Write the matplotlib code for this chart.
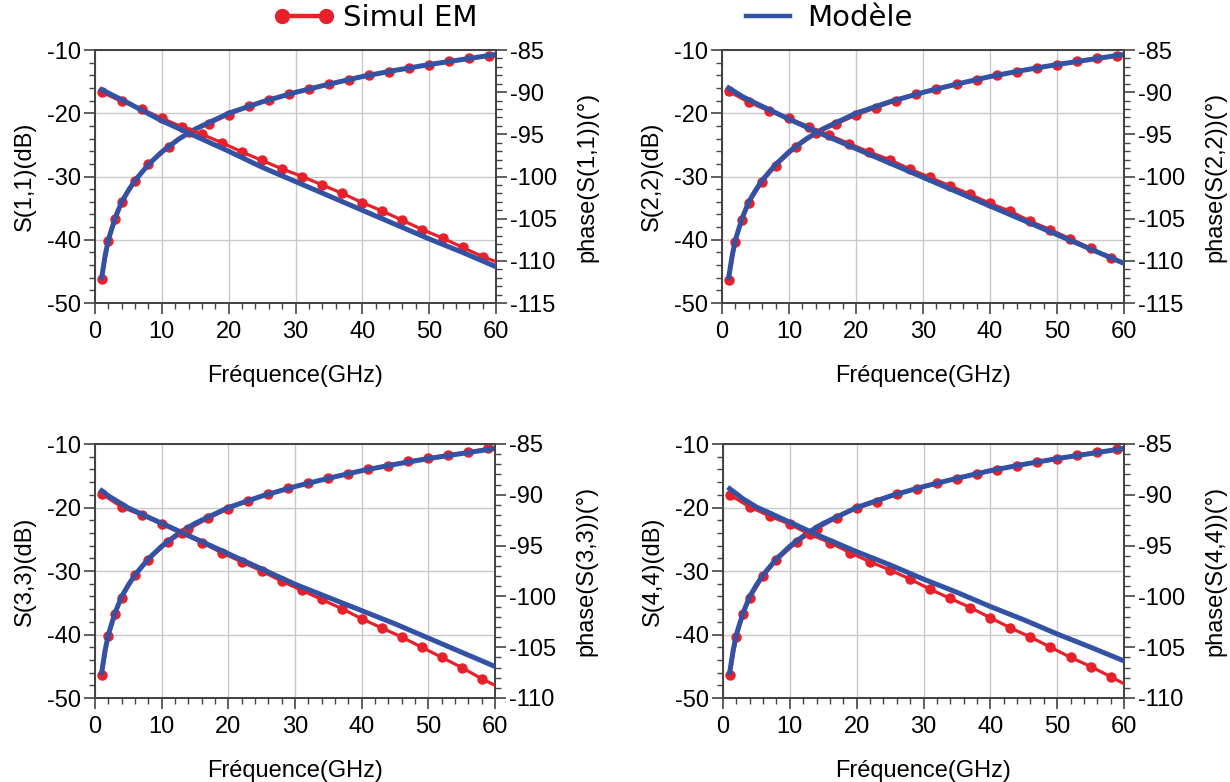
import matplotlib
matplotlib.use("Agg")
import matplotlib.pyplot as plt
from matplotlib.ticker import MultipleLocator
from matplotlib.lines import Line2D

plt.rcParams['font.family'] = ['Liberation Sans', 'DejaVu Sans']
plt.rcParams['axes.unicode_minus'] = False

# frequences (GHz)
f_mag = [1, 2, 3, 4, 6, 8, 11, 14, 17, 20, 23, 26, 29, 32, 35, 38, 41, 44, 47, 50, 53, 56, 59]
f_ph = [1, 4, 7, 10, 13, 16, 19, 22, 25, 28, 31, 34, 37, 40, 43, 46, 49, 52, 55, 58, 60]
f_mod_mag = [1, 1.5, 2, 3, 4, 5, 6, 8, 10, 12.5, 15, 20, 25, 30, 35, 40, 45, 50, 55, 60]
f_mod_ph = [1, 2, 3, 5, 10, 15, 20, 25, 30, 35, 40, 45, 50, 55, 60]

ports = ['1,1', '2,2', '3,3', '4,4']

# Simul EM : module (dB)
em_mag = {
    '1,1': [-46.2, -40.2, -36.7, -34.1, -30.7, -28.1, -25.4, -23.0, -21.7, -20.2, -18.9, -17.9,
            -17.0, -16.1, -15.4, -14.7, -13.9, -13.4, -12.9, -12.3, -11.8, -11.3, -10.9],
    '2,2': [-46.4, -40.3, -36.8, -34.2, -30.8, -28.3, -25.4, -23.2, -21.7, -20.3, -19.1, -18.0,
            -17.0, -16.2, -15.4, -14.7, -13.9, -13.4, -12.8, -12.3, -11.8, -11.3, -10.9],
    '3,3': [-46.3, -40.2, -36.8, -34.2, -30.7, -28.2, -25.4, -23.4, -21.7, -20.2, -18.9, -17.9,
            -16.9, -16.2, -15.4, -14.7, -13.9, -13.4, -12.7, -12.2, -11.7, -11.3, -10.7],
    '4,4': [-46.4, -40.4, -36.8, -34.3, -30.8, -28.3, -25.5, -23.4, -21.6, -20.1, -19.1, -17.9,
            -17.1, -16.2, -15.5, -14.7, -14.1, -13.4, -12.8, -12.3, -11.7, -11.3, -10.8],
}
# Simul EM : phase (deg)
em_ph = {
    '1,1': [-90.0, -91.1, -92.0, -93.1, -94.1, -95.0, -96.0, -97.1, -98.1, -99.1, -100.0,
            -101.0, -102.0, -103.1, -104.1, -105.2, -106.3, -107.3, -108.4, -109.5, -110.1],
    '2,2': [-89.9, -91.2, -92.2, -93.1, -94.1, -95.1, -96.1, -97.1, -98.0, -99.1, -100.1,
            -101.1, -102.1, -103.2, -104.1, -105.3, -106.3, -107.4, -108.5, -109.7, -110.3],
    '3,3': [-89.9, -91.2, -92.0, -92.9, -93.8, -94.7, -95.7, -96.6, -97.5, -98.5, -99.4,
            -100.3, -101.2, -102.2, -103.1, -104.0, -105.0, -106.0, -107.0, -108.1, -108.75],
    '4,4': [-90.0, -91.2, -92.1, -92.9, -93.9, -94.7, -95.7, -96.6, -97.4, -98.3, -99.3,
            -100.2, -101.1, -102.1, -103.1, -104.0, -105.0, -106.0, -106.9, -107.9, -108.6],
}
# Modele
mod_mag = [-46.0, -42.6, -40.0, -36.6, -34.0, -32.2, -30.6, -28.1, -26.1, -24.1, -22.5,
           -20.0, -18.2, -16.7, -15.4, -14.2, -13.2, -12.3, -11.5, -10.7]
mod_ph = {
    '1,1': [-89.7, -90.1, -90.5, -91.3, -93.4, -95.2, -97.0, -98.9, -100.6, -102.3, -104.0,
            -105.7, -107.4, -109.0, -110.7],
    '2,2': [-89.5, -90.0, -90.5, -91.3, -93.2, -95.0, -96.7, -98.4, -100.1, -101.8, -103.5,
            -105.2, -106.9, -108.6, -110.3],
    '3,3': [-89.6, -90.1, -90.5, -91.3, -92.8, -94.3, -95.8, -97.3, -98.8, -100.1, -101.4,
            -102.7, -104.1, -105.5, -106.9],
    '4,4': [-89.4, -89.9, -90.4, -91.2, -92.7, -94.2, -95.6, -96.9, -98.3, -99.6, -101.0,
            -102.3, -103.7, -105.0, -106.35],
}
phase_lim = {'1,1': (-115, -85), '2,2': (-115, -85), '3,3': (-110, -85), '4,4': (-110, -85)}

RED = '#e8202a'
BLUE = '#3452a4'
SPINE = '#444444'

W, H = 1230, 782
rects = {
    '1,1': (95, 50, 496, 303),
    '2,2': (722, 50, 1124, 303),
    '3,3': (95, 444, 495, 698),
    '4,4': (723, 444, 1124, 698),
}

fig = plt.figure(figsize=(12.3, 7.82), dpi=100)

for p in ports:
    x0, y0, x1, y1 = rects[p]
    ax = fig.add_axes([x0 / W, 1 - y1 / H, (x1 - x0) / W, (y1 - y0) / H])
    ax2 = ax.twinx()

    ax.plot(f_mag, em_mag[p], color=RED, lw=2.3, marker='o', ms=6.5, zorder=3)
    ax.plot(f_mod_mag, mod_mag, color=BLUE, lw=3.6, zorder=4)
    ax2.plot(f_ph, em_ph[p], color=RED, lw=2.3, marker='o', ms=6.5,
             markevery=list(range(len(f_ph) - 1)), zorder=3)
    ax2.plot(f_mod_ph, mod_ph[p], color=BLUE, lw=3.6, zorder=4)

    ax.set_xlim(0, 60)
    ax.set_ylim(-50, -10)
    ax2.set_ylim(*phase_lim[p])

    ax.xaxis.set_major_locator(MultipleLocator(10))
    ax.xaxis.set_minor_locator(MultipleLocator(2))
    ax.yaxis.set_major_locator(MultipleLocator(10))
    ax.yaxis.set_minor_locator(MultipleLocator(2))
    ax2.yaxis.set_major_locator(MultipleLocator(5))
    ax2.yaxis.set_minor_locator(MultipleLocator(1))

    ax.grid(True, which='major', color='#c8c8c8', lw=1.0)
    ax.set_axisbelow(True)

    for a in (ax, ax2):
        a.tick_params(which='major', direction='out', length=8, width=1.2,
                      color=SPINE, labelsize=17, pad=2)
        a.tick_params(which='minor', direction='out', length=4.5, width=1.0, color=SPINE)
        for s in a.spines.values():
            s.set_color(SPINE)
            s.set_linewidth(1.4)
    ax.tick_params(axis='x', which='major', pad=5)

    ax.set_xlabel('Fréquence(GHz)', fontsize=17, labelpad=16)
    ax.set_ylabel(f'S({p})(dB)', fontsize=17, labelpad=8)
    ax2.set_ylabel(f'phase(S({p}))(°)', fontsize=17, labelpad=14)

handles = [
    Line2D([], [], color=RED, lw=3.2, marker='o', ms=10),
    Line2D([], [], color=BLUE, lw=3.2),
]
fig.legend(handles, ['Simul EM', 'Modèle'], loc='center', bbox_to_anchor=(0.482, 0.977),
           ncol=2, frameon=False, numpoints=2, handlelength=2.1, handletextpad=0.3,
           columnspacing=8.9, prop={'family': 'DejaVu Sans', 'size': 21})

fig.savefig('out.png', dpi=100)
